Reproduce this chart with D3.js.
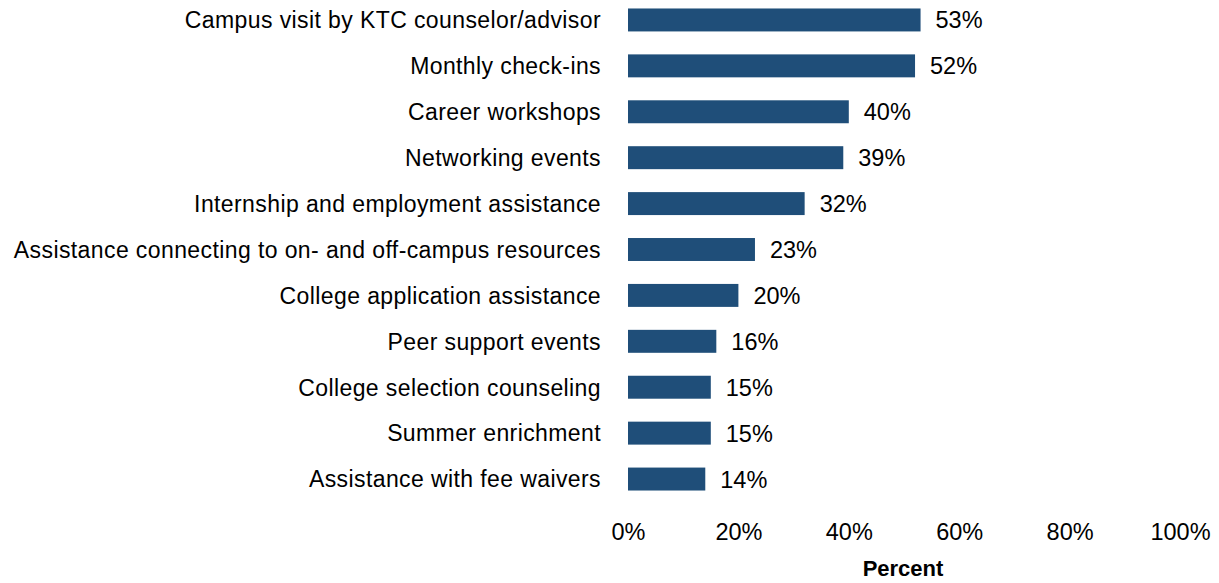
<!DOCTYPE html>
<html>
<head>
<meta charset="utf-8">
<script src="https://cdn.jsdelivr.net/npm/d3@7"></script>
<style>
  html, body { margin: 0; padding: 0; background: #ffffff; }
  svg text { font-family: "Liberation Sans", Arial, sans-serif; fill: #000; }
</style>
</head>
<body>
<svg id="chart" width="1219" height="583"></svg>
<script>
// Services used, share of respondents
const categories = [
  "Campus visit by KTC counselor/advisor",
  "Monthly check-ins",
  "Career workshops",
  "Networking events",
  "Internship and employment assistance",
  "Assistance connecting to on- and off-campus resources",
  "College application assistance",
  "Peer support events",
  "College selection counseling",
  "Summer enrichment",
  "Assistance with fee waivers"
];
const values = [53, 52, 40, 39, 32, 23, 20, 16, 15, 15, 14];
const tickValues = [0, 20, 40, 60, 80, 100];
const axisTitle = "Percent";

const svg = d3.select("#chart");
const x0 = 628, x1 = 1180;
const x = d3.scaleLinear().domain([0, 100]).range([x0, x1]);
const y = d3.scaleBand().domain(categories).range([-3, 502]).paddingInner(0.5).paddingOuter(0.25);

const rows = categories.map((c, i) => ({ c, v: values[i] }));

svg.append("g").selectAll("rect").data(rows).join("rect")
  .attr("x", x(0))
  .attr("y", d => y(d.c))
  .attr("width", d => x(d.v) - x(0))
  .attr("height", y.bandwidth())
  .attr("fill", "#1f4e79");

svg.append("g").selectAll("text").data(rows).join("text")
  .attr("x", d => x(d.v) + 15)
  .attr("y", d => y(d.c) + y.bandwidth() / 2)
  .attr("dy", "0.36em")
  .attr("font-size", 23.5)
  .text(d => d.v + "%");

svg.append("g").selectAll("text").data(rows).join("text")
  .attr("x", 601)
  .attr("y", d => y(d.c) + y.bandwidth() / 2)
  .attr("dy", "0.36em")
  .attr("text-anchor", "end")
  .attr("font-size", 23)
  .attr("letter-spacing", 0.4)
  .text(d => d.c);

const axis = d3.axisBottom(x).tickValues(tickValues).tickFormat(d => d + "%").tickSize(0).tickPadding(0);
const ax = svg.append("g").attr("transform", "translate(0,523)").call(axis);
ax.select(".domain").remove();
ax.selectAll("text").attr("font-size", 23.5).attr("dy", "0.71em")
  .style("font-family", "'Liberation Sans', Arial, sans-serif").attr("fill", "#000");

svg.append("text")
  .attr("x", 903)
  .attr("y", 576)
  .attr("text-anchor", "middle")
  .attr("font-size", 22)
  .attr("font-weight", "bold")
  .text(axisTitle);
</script>
</body>
</html>
